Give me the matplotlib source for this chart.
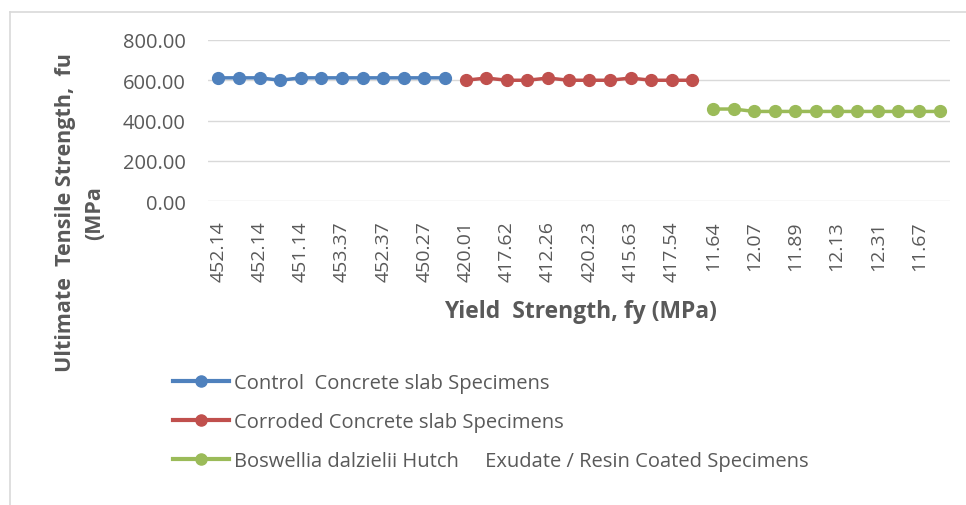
import matplotlib.pyplot as plt
from matplotlib.lines import Line2D

plt.rcParams['font.family'] = ['Open Sans', 'DejaVu Sans']

# Yield strength labels (category axis); only every other one is shown in the chart
control_fy = ['452.14', '452.37', '452.14', '451.14', '451.14', '453.37',
              '453.37', '452.14', '452.37', '451.14', '450.27', '452.37']
corroded_fy = ['420.01', '417.62', '417.62', '412.26', '412.26', '420.23',
               '420.23', '415.63', '415.63', '417.54', '417.54', '420.01']
coated_fy = ['11.64', '12.07', '12.07', '11.89', '11.89', '12.13',
             '12.13', '12.31', '12.31', '11.67', '11.67', '11.64']

# Ultimate tensile strength values
control_fu = [612, 612, 612, 600, 612, 612, 612, 612, 612, 612, 612, 612]
corroded_fu = [600, 611, 600, 600, 611, 600, 600, 600, 611, 600, 600, 600]
coated_fu = [457, 457, 445, 445, 445, 445, 445, 445, 445, 445, 445, 445]

labels = control_fy + corroded_fy + coated_fy
n1, n2 = len(control_fu), len(corroded_fu)

blue, red, green = '#4F81BD', '#C0504D', '#9BBB59'
grey = '#595959'

fig = plt.figure(figsize=(9.66, 5.06), dpi=100)
ax = fig.add_axes([208 / 966, 1 - 202 / 506, 742 / 966, 161 / 506])

x1 = list(range(n1))
x2 = list(range(n1, n1 + n2))
x3 = list(range(n1 + n2, len(labels)))
ax.plot(x1, control_fu, color=blue, lw=2.5, marker='o', ms=8.5)
ax.plot(x2, corroded_fu, color=red, lw=2.5, marker='o', ms=8.5)
ax.plot(x3, coated_fu, color=green, lw=2.5, marker='o', ms=8.5)

ax.set_xlim(-0.5, len(labels) - 0.5)
ax.set_ylim(0, 800)
ax.set_yticks([0, 200, 400, 600, 800])
ax.set_yticklabels([f'{v:.2f}' for v in [0, 200, 400, 600, 800]])
ax.set_xticks(range(0, len(labels), 2))
ax.set_xticklabels(labels[::2], rotation=90)
ax.tick_params(axis='x', length=0, pad=14, labelsize=14, labelcolor=grey)
ax.tick_params(axis='y', length=0, pad=16, labelsize=14.5, labelcolor=grey)
ax.grid(axis='y', color='#D9D9D9', lw=1)
ax.set_axisbelow(True)
for s in ax.spines.values():
    s.set_visible(False)

fig.text(580 / 966, 1 - 312 / 506, 'Yield  Strength, fy (MPa)', ha='center', va='center',
         fontsize=16.5, fontweight='bold', color=grey)
fig.text(80 / 966, 1 - 213 / 506, 'Ultimate  Tensile Strength,  fu\n(MPa', rotation=90,
         ha='center', va='center', multialignment='center',
         fontsize=15.5, fontweight='bold', color=grey, linespacing=1.5)

handles = [Line2D([], [], color=c, lw=3, marker='o', ms=8) for c in (blue, red, green)]
names = ['Control  Concrete slab Specimens', 'Corroded Concrete slab Specimens',
         'Boswellia dalzielii Hutch     Exudate / Resin Coated Specimens']
leg = fig.legend(handles, names, loc='upper left', bbox_to_anchor=(155 / 966, 1 - 356 / 506),
                 frameon=False, fontsize=14.5, handlelength=2.75, handletextpad=0.25,
                 labelspacing=0.95, labelcolor=grey)

# chart border
fig.add_artist(Line2D([10 / 966, 1], [1 - 13 / 506, 1 - 13 / 506], color='#D9D9D9', lw=1.2))
fig.add_artist(Line2D([10 / 966, 10 / 966], [0, 1 - 13 / 506], color='#D9D9D9', lw=1.2))

fig.savefig('out.png', dpi=100)
